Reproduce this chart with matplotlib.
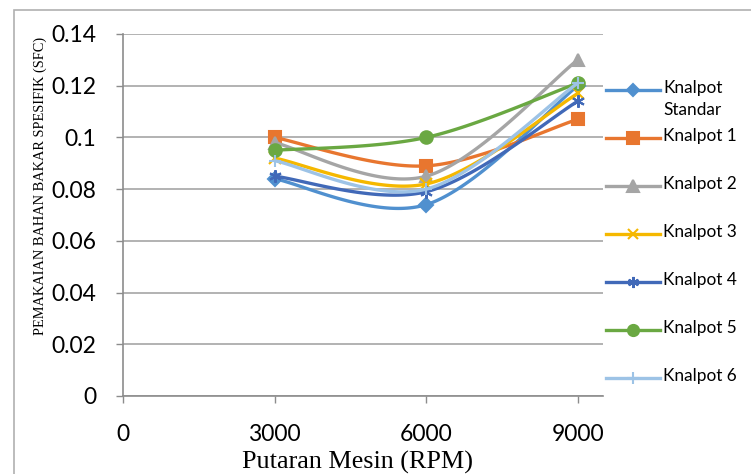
import numpy as np
import matplotlib.pyplot as plt
from matplotlib.patches import Rectangle
from matplotlib.lines import Line2D

rpm = [3000, 6000, 9000]
series_names = ['Knalpot\nStandar', 'Knalpot 1', 'Knalpot 2', 'Knalpot 3',
                'Knalpot 4', 'Knalpot 5', 'Knalpot 6']
sfc_standar = [0.084, 0.074, 0.120]
sfc_k1 = [0.100, 0.089, 0.107]
sfc_k2 = [0.098, 0.085, 0.130]
sfc_k3 = [0.092, 0.082, 0.117]
sfc_k4 = [0.085, 0.079, 0.114]
sfc_k5 = [0.095, 0.100, 0.121]
sfc_k6 = [0.091, 0.080, 0.121]
y_ticks = [0, 0.02, 0.04, 0.06, 0.08, 0.1, 0.12, 0.14]
y_tick_labels = ['0', '0.02', '0.04', '0.06', '0.08', '0.1', '0.12', '0.14']
x_ticks = [0, 3000, 6000, 9000]

colors = ['#5090CF', '#E8762F', '#A5A5A5', '#F5B800', '#4169B8', '#6AA842', '#9DC3E6']
markers = ['D', 's', '^', 'x', (6, 2, 0), 'o', '+']
msizes = [7, 9, 9, 8, 9, 9, 9]


def smooth(xs, ys, n=60):
    # excel-like smoothing: catmull-rom segments as cubic beziers
    p = np.column_stack([xs, ys]).astype(float)
    pts = np.vstack([p[0], p, p[-1]])
    out = []
    t = np.linspace(0, 1, n)[:, None]
    for i in range(1, len(pts) - 2):
        p0, p1, p2, p3 = pts[i - 1], pts[i], pts[i + 1], pts[i + 2]
        c1 = p1 + (p2 - p0) / 6.0
        c2 = p2 - (p3 - p1) / 6.0
        seg = ((1 - t) ** 3) * p1 + 3 * ((1 - t) ** 2) * t * c1 \
            + 3 * (1 - t) * t ** 2 * c2 + t ** 3 * p2
        out.append(seg)
    curve = np.vstack(out)
    return curve[:, 0], curve[:, 1]


W, H = 751, 474
fig = plt.figure(figsize=(W / 100, H / 100), dpi=100)
fig.patch.set_facecolor('white')
fig.patches.append(Rectangle((14 / W, -0.05), 1.1, (H - 10) / H + 0.05,
                             transform=fig.transFigure, fill=False,
                             edgecolor='#B0B0B0', linewidth=1.2))

ax = fig.add_axes([123 / W, 78 / H, 480 / W, 362 / H])

all_series = [sfc_standar, sfc_k1, sfc_k2, sfc_k3, sfc_k4, sfc_k5, sfc_k6]
for i, vals in enumerate(all_series):
    sx, sy = smooth(rpm, vals)
    ax.plot(sx, sy, color=colors[i], linewidth=2.4, zorder=3 + i,
            solid_capstyle='round')
    ax.plot(rpm, vals, linestyle='none', marker=markers[i], markersize=msizes[i],
            color=colors[i], markeredgewidth=1.5, zorder=3 + i)

ax.set_xlim(0, 9500)
ax.set_ylim(0, 0.14)
ax.set_xticks(x_ticks)
ax.set_yticks(y_ticks)
ax.set_yticklabels(y_tick_labels)
ax.grid(axis='y', color='#A6A6A6', linewidth=1.2)
ax.set_axisbelow(True)
for side in ['top', 'right']:
    ax.spines[side].set_visible(False)
for side in ['left', 'bottom']:
    ax.spines[side].set_color('#8C8C8C')
    ax.spines[side].set_linewidth(1.2)
ax.tick_params(axis='both', color='#8C8C8C', length=5, width=1.0,
               labelsize=16.5, labelcolor='black')
for lab in ax.get_xticklabels() + ax.get_yticklabels():
    lab.set_family(['Lato', 'DejaVu Sans'])
ax.tick_params(axis='x', pad=15)
ax.tick_params(axis='y', pad=14)

fig.text(40 / W, 1 - 186 / H, 'PEMAKAIAN BAHAN BAKAR SPESIFIK (SFC)', rotation=90,
         ha='center', va='center', family='Liberation Serif', fontsize=10.4)
fig.text(358 / W, 1 - 462 / H, 'Putaran Mesin (RPM)', ha='center', va='center',
         family='Liberation Serif', fontsize=18.8)

# legend drawn by hand so the rows keep an even step like the original
for i, name in enumerate(series_names):
    yy = 1 - (90 + 48 * i) / H
    fig.lines.append(Line2D([606 / W, 660 / W], [yy, yy], transform=fig.transFigure,
                            color=colors[i], linewidth=2.4))
    fig.lines.append(Line2D([633 / W], [yy], transform=fig.transFigure,
                            color=colors[i], marker=markers[i],
                            markersize=msizes[i] - 1, markeredgewidth=1.5))
    fig.text(663 / W, yy + 9.5 / H, name, ha='left', va='top', family='Lato',
             fontsize=12.4, linespacing=1.45)

fig.savefig('out.png', dpi=100)
